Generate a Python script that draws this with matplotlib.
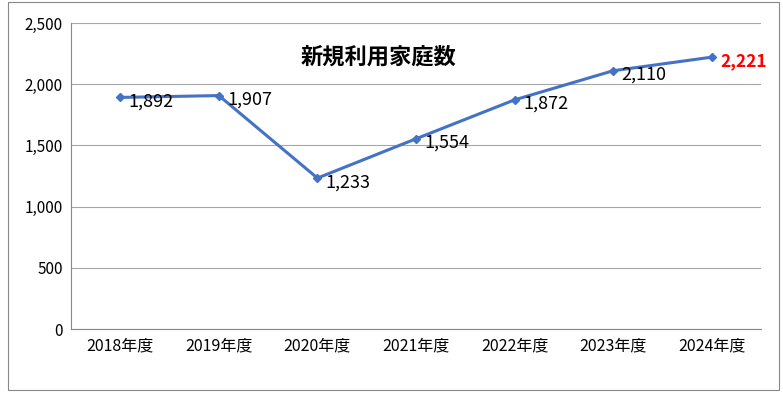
import matplotlib
matplotlib.use("Agg")
import matplotlib.pyplot as plt
from matplotlib.patches import Rectangle

plt.rcParams['font.family'] = ['Noto Sans CJK JP', 'DejaVu Sans']

categories = ['2018年度', '2019年度', '2020年度', '2021年度', '2022年度', '2023年度', '2024年度']
values = [1892, 1907, 1233, 1554, 1872, 2110, 2221]
yticks = [0, 500, 1000, 1500, 2000, 2500]

fig = plt.figure(figsize=(7.83, 4.0), dpi=100)
fig.patches.append(Rectangle((8/783, 10/400), 771/783, 388/400, transform=fig.transFigure,
                             fill=False, edgecolor='#888888', linewidth=0.8))
ax = fig.add_axes([71/783, 1 - 329/400, 690/783, 306/400])
x = list(range(len(categories)))
ax.plot(x, values, color='#4472C4', linewidth=2.2, marker='D', markersize=4.5)
ax.set_xlim(-0.5, len(categories) - 0.5)
ax.set_ylim(0, 2500)
ax.set_yticks(yticks)
ax.set_yticklabels([f'{v:,}' for v in yticks], fontsize=11)
ax.set_xticks(x)
ax.set_xticklabels(categories, fontsize=11.5)
ax.tick_params(length=0, pad=6)
ax.yaxis.grid(True, color='#A6A6A6', linewidth=0.8)
ax.set_axisbelow(True)
for s in ['top', 'right']:
    ax.spines[s].set_visible(False)
ax.spines['left'].set_color('#888888')
ax.spines['bottom'].set_color('#888888')
for i, v in enumerate(values):
    last = i == len(values) - 1
    ax.annotate(f'{v:,}', (i, v), xytext=(6, -3), textcoords='offset points',
                va='center', ha='left', fontsize=13 if not last else 12.5,
                color='red' if last else 'black', fontweight='bold' if last else 'normal')
ax.text(0.445, 0.89, '新規利用家庭数', transform=ax.transAxes, ha='center', va='center',
        fontsize=16, fontweight='bold')
fig.savefig('out.png', dpi=100)
